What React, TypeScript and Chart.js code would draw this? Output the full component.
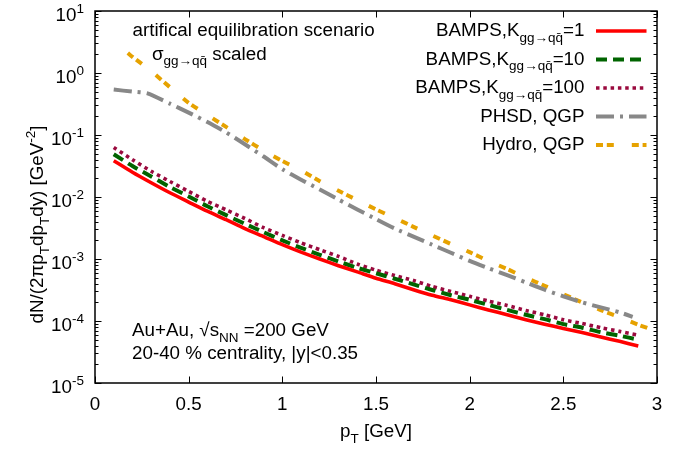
import React, { useEffect, useRef } from "react";
import { Chart, registerables } from "chart.js";

Chart.register(...registerables);

// transverse momentum grid of the BAMPS runs [GeV]
const ptGrid = [
  0.1, 0.2, 0.3, 0.4, 0.5, 0.6, 0.7, 0.8, 0.9, 1.0,
  1.1, 1.2, 1.3, 1.4, 1.5, 1.6, 1.7, 1.8, 1.9, 2.0,
  2.1, 2.2, 2.3, 2.4, 2.5, 2.6, 2.7, 2.8, 2.9,
];

// BAMPS spectra for K_{gg->qqbar} = 1, 10, 100 [GeV^-2]
const bampsK1 = [
  0.0385, 0.0251, 0.017, 0.0117, 0.0083, 0.0059, 0.0043, 0.0031, 0.0023, 0.0017,
  0.00129, 0.001, 0.00078, 0.00062, 0.00049, 0.0004, 0.00032, 0.00026, 0.00022, 0.000182,
  0.000151, 0.000126, 0.000105, 0.000089, 0.000076, 0.000065, 0.000055, 0.000047, 0.0000395,
];
const bampsK10 = [
  0.049, 0.0316, 0.0214, 0.0145, 0.0102, 0.0071, 0.0051, 0.0037, 0.0027, 0.002,
  0.00151, 0.00117, 0.00091, 0.00072, 0.00059, 0.00048, 0.00039, 0.000316, 0.00026, 0.00022,
  0.000182, 0.000151, 0.000126, 0.000107, 0.000089, 0.000078, 0.000066, 0.000058, 0.00005,
];
const bampsK100 = [
  0.063, 0.04, 0.026, 0.0178, 0.0123, 0.0085, 0.0062, 0.0045, 0.0032, 0.0024,
  0.00182, 0.00141, 0.0011, 0.00083, 0.00066, 0.00054, 0.00045, 0.00036, 0.0003, 0.00025,
  0.00021, 0.000178, 0.000148, 0.000126, 0.000105, 0.000091, 0.000078, 0.000068, 0.000059,
];

// PHSD, QGP
const phsdPt = [
  0.1, 0.2, 0.28, 0.4, 0.5, 0.6, 0.7, 0.8, 0.9, 1.0,
  1.1, 1.2, 1.3, 1.4, 1.5, 1.6, 1.7, 1.8, 1.9, 2.0,
  2.1, 2.2, 2.3, 2.4, 2.5, 2.6, 2.7, 2.8, 2.87,
];
const phsdQgp = [
  0.54, 0.5, 0.47, 0.32, 0.23, 0.162, 0.11, 0.071, 0.045, 0.028,
  0.019, 0.0132, 0.0091, 0.0063, 0.0044, 0.0031, 0.0023, 0.0017, 0.00126, 0.00093,
  0.00071, 0.00055, 0.00042, 0.00032, 0.00025, 0.0002, 0.000166, 0.000138, 0.000117,
];

// Hydro, QGP
const hydroPt = [
  0.175, 0.2, 0.3, 0.4, 0.5, 0.6, 0.7, 0.8, 0.9, 1.0,
  1.1, 1.2, 1.3, 1.4, 1.5, 1.6, 1.7, 1.8, 1.9, 2.0,
  2.1, 2.2, 2.3, 2.4, 2.5, 2.6, 2.7, 2.8, 2.9, 3.0,
];
const hydroQgp = [
  2.1, 1.82, 1.07, 0.59, 0.33, 0.21, 0.135, 0.086, 0.056, 0.038,
  0.027, 0.018, 0.0126, 0.0089, 0.0063, 0.0046, 0.0033, 0.0024, 0.00174, 0.00129,
  0.00093, 0.00069, 0.0005, 0.00037, 0.00027, 0.0002, 0.00015, 0.000115, 0.000087, 0.000068,
];

const xTickValues = [0, 0.5, 1, 1.5, 2, 2.5, 3];
const xTickLabels = ["0", "0.5", "1", "1.5", "2", "2.5", "3"];
const yDecades = [1, 0, -1, -2, -3, -4, -5];

type Seg = { t: string; k?: "sub" | "sup" };

const MAIN = 18.8;
const SMALL = 13.5;
const FAMILY = '"Liberation Sans", Arial, Helvetica, sans-serif';
const fontOf = (s: number) => `${s}px ${FAMILY}`;

const gqq = "gg\u2192qq\u0304";

const series = [
  { label: [{ t: "BAMPS,K" }, { t: gqq, k: "sub" }, { t: "=1" }] as Seg[], color: "#ff0000", dash: [] as number[], width: 3.6 },
  { label: [{ t: "BAMPS,K" }, { t: gqq, k: "sub" }, { t: "=10" }] as Seg[], color: "#006400", dash: [11, 6], width: 4 },
  { label: [{ t: "BAMPS,K" }, { t: gqq, k: "sub" }, { t: "=100" }] as Seg[], color: "#9a0a3e", dash: [3.5, 3.8], width: 3.6 },
  { label: [{ t: "PHSD, QGP" }] as Seg[], color: "#888888", dash: [18, 6, 3, 6], width: 4 },
  { label: [{ t: "Hydro, QGP" }] as Seg[], color: "#e6a200", dash: [7, 3.8, 7, 18], width: 4 },
];

function segSize(s: Seg) {
  return s.k ? SMALL : MAIN;
}
function segShift(s: Seg) {
  return s.k === "sub" ? 5.5 : s.k === "sup" ? -8 : 0;
}
function richWidth(ctx: CanvasRenderingContext2D, segs: Seg[]) {
  let w = 0;
  for (const s of segs) {
    ctx.font = fontOf(segSize(s));
    w += ctx.measureText(s.t).width;
  }
  return w;
}
function drawRich(
  ctx: CanvasRenderingContext2D,
  segs: Seg[],
  x: number,
  y: number,
  align: "left" | "right" | "center"
) {
  const w = richWidth(ctx, segs);
  let cx = align === "left" ? x : align === "right" ? x - w : x - w / 2;
  ctx.textAlign = "left";
  ctx.textBaseline = "alphabetic";
  ctx.fillStyle = "#000";
  for (const s of segs) {
    ctx.font = fontOf(segSize(s));
    ctx.fillText(s.t, cx, y + segShift(s));
    cx += ctx.measureText(s.t).width;
  }
}

const framePlugin = {
  id: "frameAndText",
  afterDraw(chart: any) {
    const ctx: CanvasRenderingContext2D = chart.ctx;
    const { left, right, top, bottom } = chart.chartArea;
    const xs = chart.scales.x;
    const ys = chart.scales.y;
    ctx.save();

    // frame
    ctx.strokeStyle = "#000";
    ctx.lineWidth = 1.5;
    ctx.setLineDash([]);
    ctx.strokeRect(left, top, right - left, bottom - top);

    // ticks
    ctx.lineWidth = 1;
    ctx.beginPath();
    for (const v of xTickValues) {
      const px = Math.round(xs.getPixelForValue(v)) + 0.5;
      ctx.moveTo(px, bottom);
      ctx.lineTo(px, bottom - 6.5);
      ctx.moveTo(px, top);
      ctx.lineTo(px, top + 6.5);
    }
    for (const e of yDecades) {
      const base = Math.pow(10, e);
      const py = Math.round(ys.getPixelForValue(base)) + 0.5;
      ctx.moveTo(left, py);
      ctx.lineTo(left + 6.5, py);
      ctx.moveTo(right, py);
      ctx.lineTo(right - 6.5, py);
      if (e > -5) {
        for (let m = 2; m <= 9; m++) {
          const v = base / 10 * m;
          const pm = Math.round(ys.getPixelForValue(v)) + 0.5;
          ctx.moveTo(left, pm);
          ctx.lineTo(left + 3.5, pm);
          ctx.moveTo(right, pm);
          ctx.lineTo(right - 3.5, pm);
        }
      }
    }
    ctx.stroke();

    // tick labels
    xTickValues.forEach((v, i) => {
      drawRich(ctx, [{ t: xTickLabels[i] }], xs.getPixelForValue(v), 409.5, "center");
    });
    for (const e of yDecades) {
      const py = ys.getPixelForValue(Math.pow(10, e));
      drawRich(ctx, [{ t: "10" }, { t: String(e), k: "sup" }], 84, py + 9.5, "right");
    }

    // axis titles
    drawRich(ctx, [{ t: "p" }, { t: "T", k: "sub" }, { t: " [GeV]" }], (left + right) / 2, 437, "center");
    ctx.save();
    ctx.translate(43, 224.5);
    ctx.rotate(-Math.PI / 2);
    drawRich(
      ctx,
      [
        { t: "dN/(2\u03c0p" },
        { t: "T", k: "sub" },
        { t: "dp" },
        { t: "T", k: "sub" },
        { t: "dy) [GeV" },
        { t: "-2", k: "sup" },
        { t: "]" },
      ],
      0,
      0,
      "center"
    );
    ctx.restore();

    // legend
    series.forEach((s, i) => {
      const base = 36 + i * 28.5;
      drawRich(ctx, s.label, 584.5, base, "right");
      ctx.strokeStyle = s.color;
      ctx.lineWidth = s.width;
      ctx.lineCap = "butt";
      ctx.setLineDash(s.dash);
      ctx.beginPath();
      ctx.moveTo(596, base - 5);
      ctx.lineTo(646.5, base - 5);
      ctx.stroke();
    });
    ctx.setLineDash([]);

    // annotations
    drawRich(ctx, [{ t: "artifical equilibration scenario" }], 132.5, 36, "left");
    drawRich(ctx, [{ t: "\u03c3" }, { t: gqq, k: "sub" }, { t: " scaled" }], 152, 59.5, "left");
    drawRich(ctx, [{ t: "Au+Au, \u221as" }, { t: "NN", k: "sub" }, { t: " =200 GeV" }], 132, 336, "left");
    drawRich(ctx, [{ t: "20-40 % centrality, |y|<0.35" }], 132, 358.5, "left");

    ctx.restore();
  },
};

function toPoints(xs: number[], ys: number[]) {
  return xs.map((x, i) => ({ x, y: ys[i] }));
}

export default function App() {
  const canvasRef = useRef<HTMLCanvasElement | null>(null);

  useEffect(() => {
    const canvas = canvasRef.current;
    if (!canvas) return;
    const data = [
      toPoints(ptGrid, bampsK1),
      toPoints(ptGrid, bampsK10),
      toPoints(ptGrid, bampsK100),
      toPoints(phsdPt, phsdQgp),
      toPoints(hydroPt, hydroQgp),
    ];
    const chart = new Chart(canvas, {
      type: "line",
      data: {
        datasets: series.map((s, i) => ({
          label: s.label.map((p) => p.t).join(""),
          data: data[i],
          borderColor: s.color,
          backgroundColor: s.color,
          borderWidth: s.width,
          borderDash: s.dash,
          borderCapStyle: "butt" as const,
          pointRadius: 0,
          tension: 0.2,
          fill: false,
        })),
      },
      options: {
        responsive: false,
        animation: false,
        devicePixelRatio: 1,
        layout: { padding: { left: 95, right: 41, top: 11, bottom: 66 } },
        plugins: { legend: { display: false }, tooltip: { enabled: false } },
        scales: {
          x: { type: "linear", min: 0, max: 3, display: false },
          y: { type: "logarithmic", min: 1e-5, max: 10, display: false },
        },
      },
      plugins: [framePlugin],
    });
    return () => chart.destroy();
  }, []);

  return (
    <div style={{ position: "fixed", left: 0, top: 0, width: 698, height: 449, background: "#fff" }}>
      <canvas ref={canvasRef} width={698} height={449} />
    </div>
  );
}
